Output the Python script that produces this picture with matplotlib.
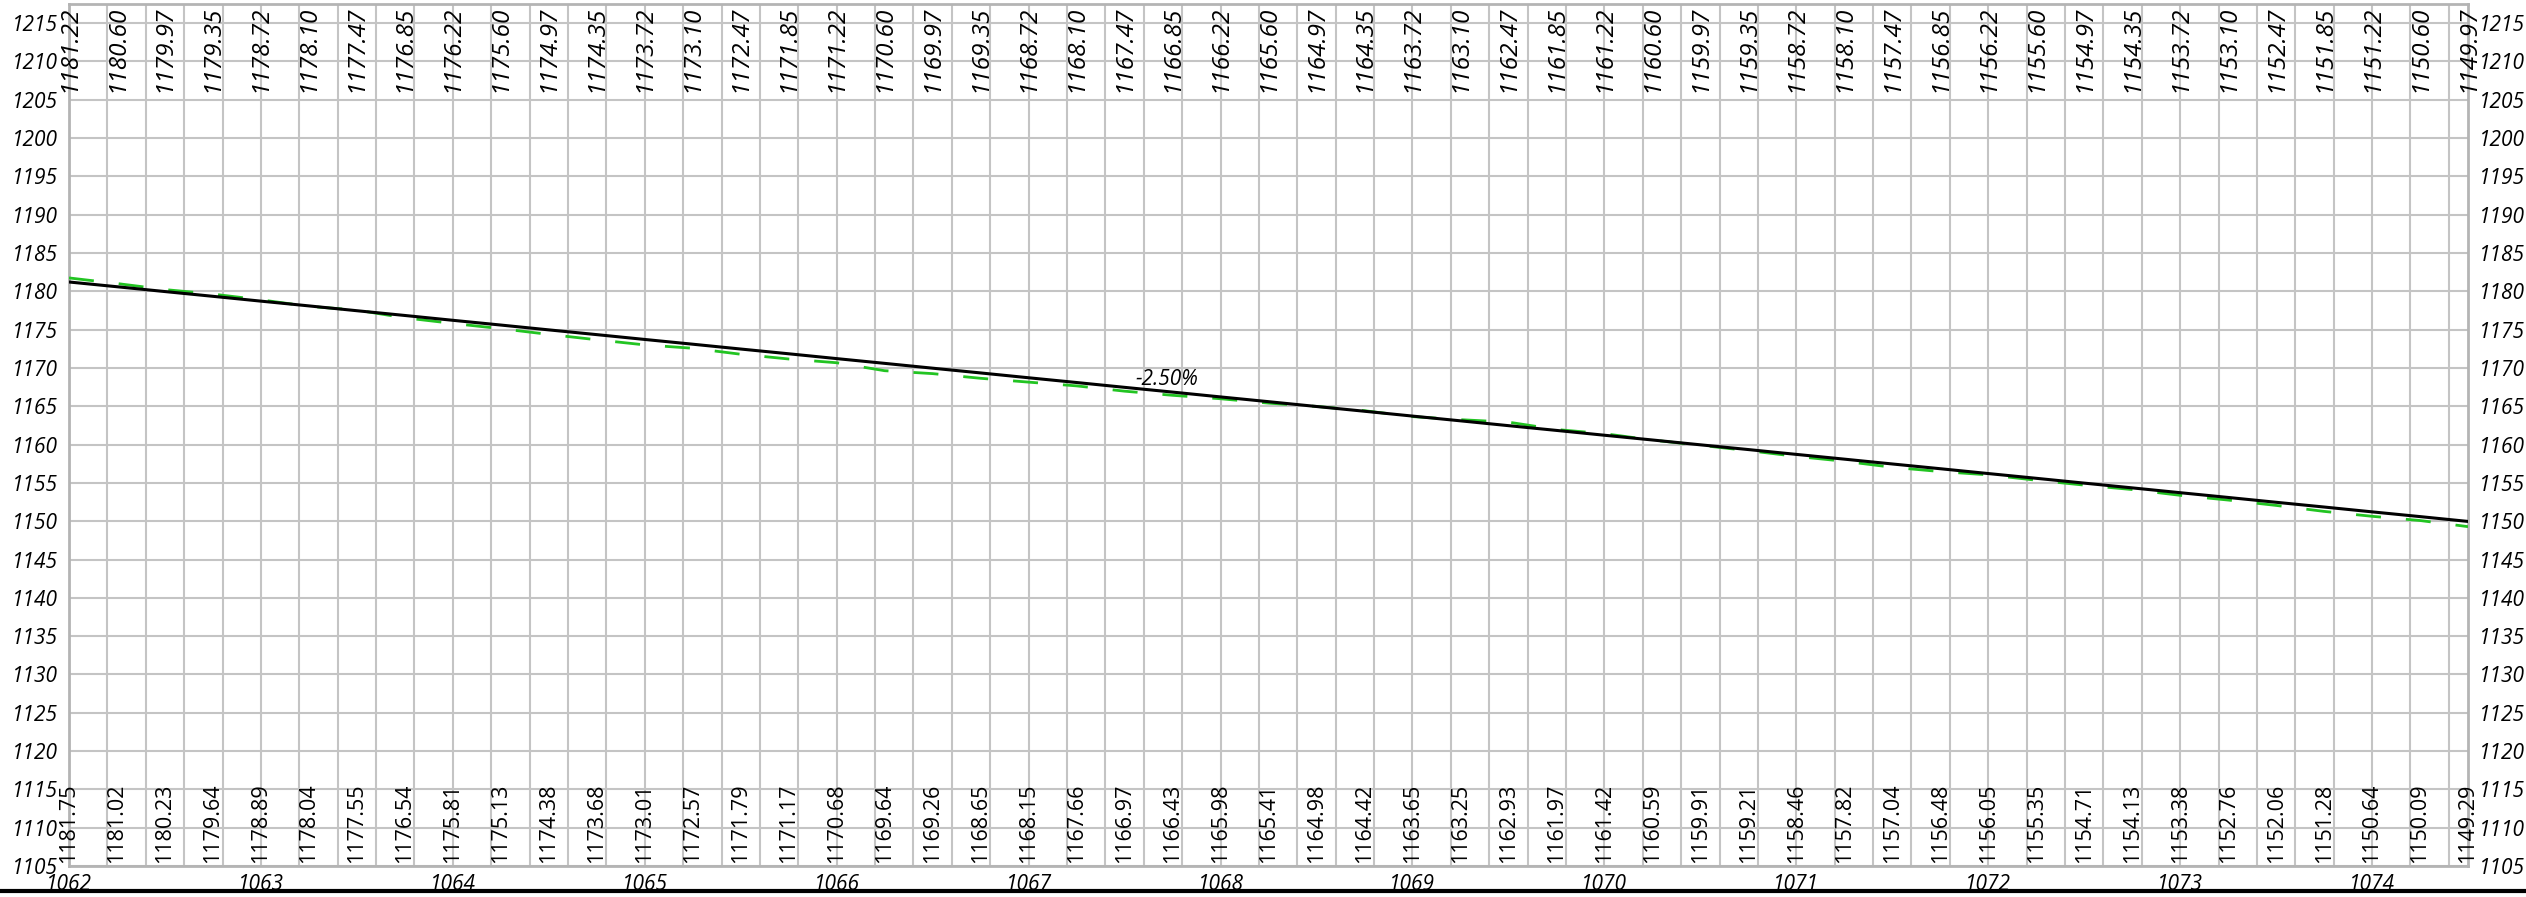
import matplotlib
matplotlib.use("Agg")
import matplotlib.pyplot as plt
import numpy as np
from matplotlib.lines import Line2D

plt.rcParams['font.family'] = ['Open Sans', 'DejaVu Sans']

# Chainage (hectometres), one station every 25 m
stations = [1062 + 0.25 * i for i in range(51)]

design = [1181.22, 1180.60, 1179.97, 1179.35, 1178.72, 1178.10, 1177.47, 1176.85, 1176.22,
          1175.60, 1174.97, 1174.35, 1173.72, 1173.10, 1172.47, 1171.85, 1171.22, 1170.60,
          1169.97, 1169.35, 1168.72, 1168.10, 1167.47, 1166.85, 1166.22, 1165.60, 1164.97,
          1164.35, 1163.72, 1163.10, 1162.47, 1161.85, 1161.22, 1160.60, 1159.97, 1159.35,
          1158.72, 1158.10, 1157.47, 1156.85, 1156.22, 1155.60, 1154.97, 1154.35, 1153.72,
          1153.10, 1152.47, 1151.85, 1151.22, 1150.60, 1149.97]

ground = [1181.75, 1181.02, 1180.23, 1179.64, 1178.89, 1178.04, 1177.55, 1176.54, 1175.81,
          1175.13, 1174.38, 1173.68, 1173.01, 1172.57, 1171.79, 1171.17, 1170.68, 1169.64,
          1169.26, 1168.65, 1168.15, 1167.66, 1166.97, 1166.43, 1165.98, 1165.41, 1164.98,
          1164.42, 1163.65, 1163.25, 1162.93, 1161.97, 1161.42, 1160.59, 1159.91, 1159.21,
          1158.46, 1157.82, 1157.04, 1156.48, 1156.05, 1155.35, 1154.71, 1154.13, 1153.38,
          1152.76, 1152.06, 1151.28, 1150.64, 1150.09, 1149.29]

grade_label = "-2.50%"
grade_label_x = 1067.72

x_ticks = list(range(1062, 1075))
y_ticks = list(range(1105, 1216, 5))

fig = plt.figure(figsize=(25.26, 8.97), dpi=100)
ax = fig.add_axes([69 / 2526, 1 - 866 / 897, (2468 - 69) / 2526, (866 - 4) / 897])

ax.set_xlim(1062, 1074.5)
ax.set_ylim(1105, 1217.5)

# grid
ax.set_xticks(x_ticks)
ax.set_xticks(np.arange(1062, 1074.5, 0.2), minor=True)
ax.set_yticks(y_ticks)
ax.grid(True, which='both', color='#c4c4c4', linewidth=1.5)
ax.set_axisbelow(True)
for s in ax.spines.values():
    s.set_color('#b4b4b4')
    s.set_linewidth(2)

ax.tick_params(which='both', length=0)
ax.tick_params(axis='x', labelsize=15, pad=6)
ax.tick_params(axis='y', labelsize=15, labelright=True, right=True, pad=8)
ax.set_xticklabels([str(t) for t in x_ticks], fontstyle='italic')
ax.set_yticklabels([str(t) for t in y_ticks], fontstyle='italic')
for t in ax.yaxis.get_major_ticks():
    t.label1.set_fontstyle('italic')
    t.label2.set_fontstyle('italic')
    t.label2.set_fontsize(15)

# ground line (dashed green) and design line (black)
ax.plot(stations, ground, color='#22c422', linewidth=2.0, dashes=(9, 9), zorder=3)
ax.plot(stations, design, color='black', linewidth=2.2, zorder=4)

# grade label
gy = np.interp(grade_label_x, stations, design)
ax.annotate(grade_label, (grade_label_x, gy), xytext=(0, 1), textcoords='offset points',
            ha='center', va='bottom', fontsize=15, fontstyle='italic', zorder=5)

# station labels: design at top, ground at bottom
for x, d, g in zip(stations, design, ground):
    ax.annotate(f"{d:.2f}", (x, 1), xycoords=('data', 'axes fraction'),
                xytext=(0, -1), textcoords='offset points',
                rotation=90, ha='center', va='top', fontsize=17.5, fontstyle='italic',
                annotation_clip=False, zorder=6)
    ax.annotate(f"{g:.2f}", (x, 0), xycoords=('data', 'axes fraction'),
                xytext=(0, 2), textcoords='offset points',
                rotation=90, ha='center', va='bottom', fontsize=15.5,
                annotation_clip=False, zorder=6)

# thick base line along bottom of figure
fig.add_artist(Line2D([0, 1], [1 - 891 / 897, 1 - 891 / 897], color='black',
                      linewidth=3, transform=fig.transFigure))

fig.savefig("out.png", dpi=100)
